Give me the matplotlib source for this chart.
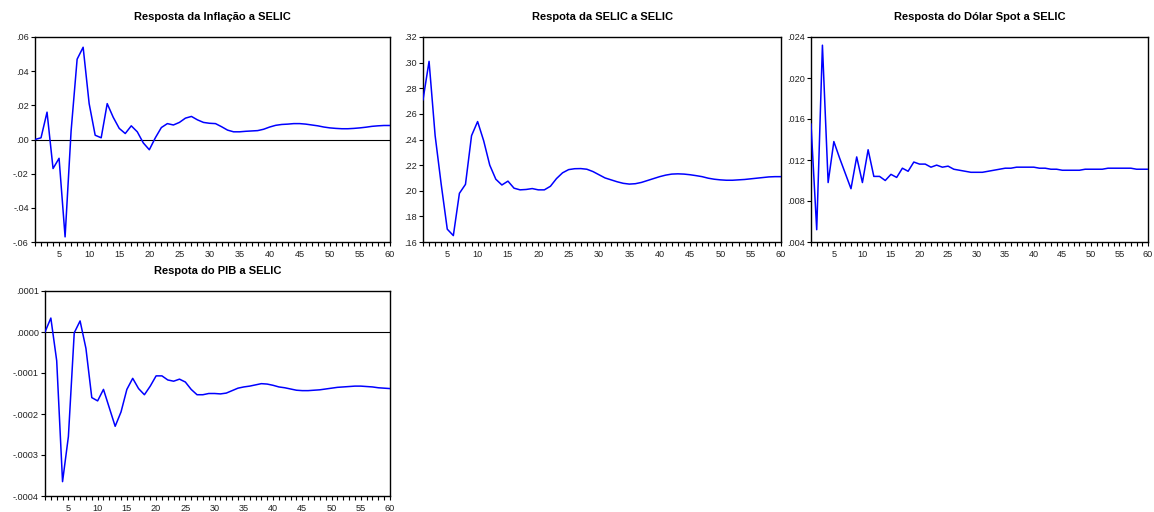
import matplotlib
matplotlib.use("Agg")
import matplotlib.pyplot as plt
from matplotlib.ticker import FixedLocator, MultipleLocator, FuncFormatter
import numpy as np

plt.rcParams['font.family'] = ['Liberation Sans', 'DejaVu Sans']

periods = list(range(1, 61))

inflacao = [0.000, 0.001, 0.016, -0.017, -0.011, -0.057, 0.005, 0.047, 0.054, 0.021,
            0.0025, 0.001, 0.021, 0.013, 0.0065, 0.0035, 0.008, 0.0045, -0.002, -0.006,
            0.001, 0.007, 0.0093, 0.0085, 0.010, 0.0125, 0.0135, 0.0115, 0.010, 0.0095,
            0.0093, 0.0075, 0.0055, 0.0045, 0.0045, 0.0048, 0.005, 0.0052, 0.006, 0.0073,
            0.0083, 0.0088, 0.009, 0.0093, 0.0093, 0.009, 0.0085, 0.008, 0.0073, 0.0068,
            0.0065, 0.0063, 0.0063, 0.0065, 0.0068, 0.0072, 0.0077, 0.008, 0.0082, 0.0082]

selic = [0.271, 0.301, 0.243, 0.205, 0.170, 0.165, 0.198, 0.205, 0.243, 0.254,
         0.239, 0.220, 0.209, 0.2045, 0.2075, 0.202, 0.2007, 0.201, 0.2017, 0.2007,
         0.2007, 0.2035, 0.2095, 0.214, 0.2165, 0.2172, 0.2173, 0.2168, 0.215, 0.2125,
         0.210, 0.2085, 0.207, 0.2058, 0.2052, 0.2055, 0.2065, 0.208, 0.2095, 0.211,
         0.2122, 0.213, 0.2132, 0.213, 0.2125, 0.2118, 0.211, 0.2098, 0.209, 0.2085,
         0.2082, 0.2082, 0.2085, 0.2088, 0.2093, 0.2098, 0.2103, 0.2108, 0.211, 0.211]

dolar = [0.0155, 0.0052, 0.0232, 0.0098, 0.0138, 0.0122, 0.0107, 0.0092, 0.0123, 0.0098,
         0.0130, 0.0104, 0.0104, 0.0100, 0.0106, 0.0103, 0.0112, 0.0109, 0.0118, 0.0116,
         0.0116, 0.0113, 0.0115, 0.0113, 0.0114, 0.0111, 0.0110, 0.0109, 0.0108, 0.0108,
         0.0108, 0.0109, 0.0110, 0.0111, 0.0112, 0.0112, 0.0113, 0.0113, 0.0113, 0.0113,
         0.0112, 0.0112, 0.0111, 0.0111, 0.0110, 0.0110, 0.0110, 0.0110, 0.0111, 0.0111,
         0.0111, 0.0111, 0.0112, 0.0112, 0.0112, 0.0112, 0.0112, 0.0111, 0.0111, 0.0111]

pib = [0.0, 0.000034, -0.000070, -0.000365, -0.000255, -0.000002, 0.000027, -0.000040, -0.000160, -0.000168,
       -0.000140, -0.000185, -0.000230, -0.000195, -0.000140, -0.000113, -0.000138, -0.000153, -0.000132, -0.000107,
       -0.000107, -0.000117, -0.000120, -0.000115, -0.000122, -0.000140, -0.000153, -0.000153, -0.000150, -0.000150,
       -0.000151, -0.000149, -0.000143, -0.000137, -0.000134, -0.000132, -0.000129, -0.000126, -0.000127, -0.000130,
       -0.000134, -0.000136, -0.000139, -0.000142, -0.000143, -0.000143, -0.000142, -0.000141, -0.000139, -0.000137,
       -0.000135, -0.000134, -0.000133, -0.000132, -0.000132, -0.000133, -0.000134, -0.000136, -0.000137, -0.000138]

titles = ["Resposta da Inflação a SELIC", "Respota da SELIC a SELIC",
          "Resposta do Dólar Spot a SELIC", "Respota do PIB a SELIC"]
yticks_list = [[-0.06, -0.04, -0.02, 0.00, 0.02, 0.04, 0.06],
               [0.16, 0.18, 0.20, 0.22, 0.24, 0.26, 0.28, 0.30, 0.32],
               [0.004, 0.008, 0.012, 0.016, 0.020, 0.024],
               [-0.0004, -0.0003, -0.0002, -0.0001, 0.0000, 0.0001]]
decimals = [2, 2, 3, 4]
series = [inflacao, selic, dolar, pib]
xtick_labels = [5, 10, 15, 20, 25, 30, 35, 40, 45, 50, 55, 60]

W, H = 1154, 512
# (left, right, top, bottom) in pixels
boxes = [(35, 390, 37, 242), (423, 781, 37, 242), (811, 1148, 37, 242), (45, 390, 291, 496)]

fig = plt.figure(figsize=(W / 100, H / 100), dpi=100)

def make_fmt(d):
    def f(v, pos):
        s = f"{v:.{d}f}"
        if s.startswith("-0"):
            s = "-" + s[2:]
        elif s.startswith("0"):
            s = s[1:]
        if s.startswith("-") and float(s) == 0:
            s = s[1:]
        return s
    return FuncFormatter(f)

for i in range(4):
    l, r, t, b = boxes[i]
    ax = fig.add_axes([l / W, 1 - b / H, (r - l) / W, (b - t) / H])
    yt = yticks_list[i]
    ax.plot(periods, series[i], color="#0000ff", lw=1.1, zorder=3)
    if yt[0] < 0 < yt[-1]:
        ax.axhline(0, color="black", lw=0.8, zorder=2)
    ax.set_xlim(1, 60)
    ax.set_ylim(yt[0], yt[-1])
    ax.yaxis.set_major_locator(FixedLocator(yt))
    ax.yaxis.set_major_formatter(make_fmt(decimals[i]))
    ax.xaxis.set_major_locator(FixedLocator(xtick_labels))
    ax.xaxis.set_minor_locator(MultipleLocator(1))
    ax.tick_params(axis="both", which="both", direction="out", length=3, width=0.8,
                   labelsize=6.6, pad=1.5, colors="black", labelcolor="#222222")
    ax.tick_params(axis="x", which="major", pad=2.5)
    for sp in ax.spines.values():
        sp.set_linewidth(1.0)
        sp.set_color("black")
    ax.set_title(titles[i], fontsize=8, fontweight="bold", pad=12)

fig.savefig("out.png", dpi=100)
